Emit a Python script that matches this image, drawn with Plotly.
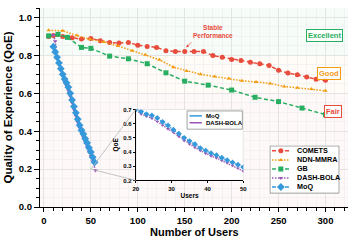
import plotly.graph_objects as go

# ---------------- data ----------------
users_comets = [5, 10, 20, 30, 40, 50, 60, 70, 80, 90, 100, 110, 120, 130, 140, 150,
                160, 170, 180, 190, 200, 210, 220, 230, 240, 250, 260, 270, 280, 290, 300]
qoe_comets = [0.900, 0.905, 0.900, 0.893, 0.886, 0.889, 0.877, 0.868, 0.865, 0.868, 0.854,
              0.847, 0.842, 0.825, 0.820, 0.820, 0.820, 0.820, 0.799, 0.790, 0.778, 0.773,
              0.764, 0.756, 0.747, 0.721, 0.707, 0.698, 0.686, 0.674, 0.669]

users_ndn = [5, 20, 35, 49, 64, 79, 94, 108, 123, 138, 152, 167, 182, 197, 211, 226,
             241, 256, 270, 285, 300]
qoe_ndn = [0.932, 0.930, 0.905, 0.885, 0.870, 0.850, 0.825, 0.803, 0.777, 0.738, 0.718,
           0.700, 0.688, 0.678, 0.666, 0.660, 0.652, 0.636, 0.629, 0.622, 0.613]

users_gb = [5, 15, 25, 40, 50, 70, 90, 110, 130, 150, 175, 200, 225, 250, 275, 300]
qoe_gb = [0.903, 0.911, 0.895, 0.842, 0.837, 0.796, 0.782, 0.756, 0.708, 0.664, 0.643,
          0.617, 0.579, 0.556, 0.522, 0.487]

users_bola = [10, 12, 14, 16, 18, 20, 22, 24, 26, 28, 30, 32, 34, 36, 38, 40, 42, 44,
              46, 48, 50, 52, 55]
qoe_bola = [0.908, 0.875, 0.792, 0.750, 0.720, 0.690, 0.662, 0.640, 0.615, 0.585, 0.550,
            0.515, 0.480, 0.447, 0.418, 0.392, 0.368, 0.342, 0.318, 0.292, 0.268, 0.242, 0.192]

users_moq = [10, 12, 14, 16, 18, 20, 22, 24, 26, 28, 30, 32, 34, 36, 38, 40, 42, 44,
             46, 48, 50, 52, 54]
qoe_moq = [0.846, 0.818, 0.790, 0.760, 0.730, 0.700, 0.675, 0.655, 0.632, 0.600, 0.565,
           0.530, 0.497, 0.463, 0.432, 0.405, 0.385, 0.360, 0.338, 0.312, 0.290, 0.262, 0.236]

inset_users = [20, 21.5, 23, 24.5, 26, 27.5, 29, 30.5, 32, 33.5, 35, 36.5, 38, 39.5,
               41, 42.5, 44, 45.5, 47, 48.5, 50]
inset_moq = [0.700, 0.685, 0.667, 0.658, 0.640, 0.612, 0.587, 0.557, 0.530, 0.500, 0.477,
             0.455, 0.428, 0.410, 0.392, 0.378, 0.360, 0.342, 0.327, 0.310, 0.293]
inset_bola = [0.695, 0.668, 0.652, 0.638, 0.615, 0.588, 0.563, 0.540, 0.510, 0.480, 0.455,
              0.432, 0.410, 0.390, 0.372, 0.358, 0.340, 0.322, 0.305, 0.285, 0.265]

series_names = ["COMETS", "NDN-MMRA", "GB", "DASH-BOLA", "MoQ"]
x_ticks = [0, 50, 100, 150, 200, 250, 300]
y_ticks = [0.0, 0.2, 0.4, 0.6, 0.8, 1.0]
inset_x_ticks = [20, 30, 40, 50]
inset_y_ticks = [0.2, 0.3, 0.4, 0.5, 0.6, 0.7]
zones = ["Excellent", "Good", "Fair"]

# ---------------- styling ----------------
W, H = 357, 242
ML, MR, MT, MB = 40, 5, 5, 35
PW, PH = W - ML - MR, H - MT - MB
FONT = "Liberation Sans, Arial, sans-serif"

RED, ORANGE, GREEN, PURPLE, BLUE = "#e74c3c", "#f39c12", "#27ae60", "#9b59b6", "#3498db"
DASH = "4px,2.5px"
DOT = "1.5px,1.5px"

styles = {
    "COMETS": dict(color=RED, dash=DASH, symbol="circle", size=5),
    "NDN-MMRA": dict(color=ORANGE, dash=DOT, symbol="triangle-up", size=4),
    "GB": dict(color=GREEN, dash=DASH, symbol="square", size=5),
    "DASH-BOLA": dict(color=PURPLE, dash=DOT, symbol="triangle-down", size=4),
    "MoQ": dict(color=BLUE, dash=DASH, symbol="diamond", size=6),
}
data = {
    "COMETS": (users_comets, qoe_comets),
    "NDN-MMRA": (users_ndn, qoe_ndn),
    "GB": (users_gb, qoe_gb),
    "DASH-BOLA": (users_bola, qoe_bola),
    "MoQ": (users_moq, qoe_moq),
}

XR = [-4.2, 324]
YR = [0, 1.05]
IXR = [20, 50]
IYR = [0.2, 0.7]


def px2paper(xp, yp):
    return (xp - ML) / PW, (H - MB - yp) / PH


fig = go.Figure()

# main series
for name in series_names:
    s = styles[name]
    xs, ys = data[name]
    fig.add_trace(go.Scatter(
        x=xs, y=ys, mode="lines+markers", name=name, showlegend=False,
        line=dict(color=s["color"], width=1.5, dash=s["dash"]),
        marker=dict(color=s["color"], symbol=s["symbol"], size=s["size"]),
        xaxis="x", yaxis="y"))

# inset background box
fig.add_trace(go.Scatter(
    x=[IXR[0], IXR[1], IXR[1], IXR[0], IXR[0]], y=[IYR[0], IYR[0], IYR[1], IYR[1], IYR[0]],
    mode="lines", fill="toself", fillcolor="white", line=dict(color="#cccccc", width=1),
    hoverinfo="skip", showlegend=False, xaxis="x2", yaxis="y2"))

fig.add_trace(go.Scatter(
    x=inset_users, y=inset_bola, mode="lines+markers", showlegend=False,
    line=dict(color=PURPLE, width=1.3, dash=DOT),
    marker=dict(color=PURPLE, symbol="triangle-down", size=3.5), xaxis="x2", yaxis="y2"))
fig.add_trace(go.Scatter(
    x=inset_users, y=inset_moq, mode="lines+markers", showlegend=False,
    line=dict(color=BLUE, width=1.3, dash=DOT),
    marker=dict(color=BLUE, symbol="diamond", size=4.5), xaxis="x2", yaxis="y2"))

# manual legend (overlay axis in pixel units)
LX0, LX1, LY0, LY1 = 273, 343, 145, 193
lw, lh = LX1 - LX0, LY1 - LY0
fig.add_trace(go.Scatter(
    x=[0, lw, lw, 0, 0], y=[0, 0, lh, lh, 0], mode="lines", fill="toself",
    fillcolor="white", line=dict(color="#8c8c8c", width=1), hoverinfo="skip",
    showlegend=False, xaxis="x3", yaxis="y3"))
rows = [5, 14.2, 23.3, 32.5, 41.7]
for name, r in zip(series_names, rows):
    s = styles[name]
    fig.add_trace(go.Scatter(
        x=[2, 20], y=[r, r], mode="lines", showlegend=False, hoverinfo="skip",
        line=dict(color=s["color"], width=1.5, dash=s["dash"]), xaxis="x3", yaxis="y3"))
    fig.add_trace(go.Scatter(
        x=[11], y=[r], mode="markers", showlegend=False, hoverinfo="skip",
        marker=dict(color=s["color"], symbol=s["symbol"], size=s["size"]),
        xaxis="x3", yaxis="y3"))
    fig.add_annotation(x=25, y=r, xref="x3", yref="y3", text=name, showarrow=False,
                       xanchor="left", yanchor="middle",
                       font=dict(family=FONT, size=7.2, color="black", weight="bold"))

shapes = []
# quality zones background
for y0, y1, col in [(0.8, YR[1], "rgba(39,174,96,0.045)"),
                    (0.6, 0.8, "rgba(243,156,18,0.04)"),
                    (YR[0], 0.6, "rgba(231,76,60,0.035)")]:
    shapes.append(dict(type="rect", xref="x", yref="y", x0=XR[0], x1=XR[1], y0=y0, y1=y1,
                       fillcolor=col, line=dict(width=0), layer="below"))

# connector lines from main point to inset corners
ix0, iy0 = px2paper(137, 180)
ix1, iy1 = px2paper(246, 108)
zx = (50 - XR[0]) / (XR[1] - XR[0])
zy = (0.2 - YR[0]) / (YR[1] - YR[0])
for cy in (iy0, iy1):
    shapes.append(dict(type="line", xref="paper", yref="paper", x0=zx, y0=zy, x1=ix0, y1=cy,
                       line=dict(color="#b5b5b5", width=0.8), layer="above"))

# inset legend
bx0, by0 = px2paper(189, 128)
bx1, by1 = px2paper(245, 109.5)
shapes.append(dict(type="rect", xref="paper", yref="paper", x0=bx0, x1=bx1, y0=by0, y1=by1,
                   fillcolor="white", line=dict(color="#8c8c8c", width=0.8), layer="above"))
for (yy, col) in [(114.5, BLUE), (121.5, PURPLE)]:
    a0, b0 = px2paper(191.5, yy)
    a1, _ = px2paper(204, yy)
    shapes.append(dict(type="line", xref="paper", yref="paper", x0=a0, x1=a1, y0=b0, y1=b0,
                       line=dict(color=col, width=1.5), layer="above"))
for (yy, txt) in [(114.5, "MoQ"), (121.5, "DASH-BOLA")]:
    a0, b0 = px2paper(206.5, yy)
    fig.add_annotation(x=a0, y=b0, xref="paper", yref="paper", text=txt, showarrow=False,
                       xanchor="left", yanchor="middle",
                       font=dict(family=FONT, size=6, color="black", weight="bold"))

# annotations
fig.add_annotation(x=180, y=0.926, xref="x", yref="y", text="Stable<br>Performance",
                   showarrow=False, font=dict(family=FONT, size=6.5, color=RED, weight="bold"))
fig.add_annotation(x=151.6, y=0.842, ax=158.6, ay=0.877, xref="x", yref="y",
                   axref="x", ayref="y", text="", showarrow=True, arrowhead=2,
                   arrowsize=0.7, arrowwidth=0.8, arrowcolor=RED)
for txt, xx, yy, col in [(zones[0], 298.6, 0.903, GREEN), (zones[1], 304, 0.704, ORANGE),
                         (zones[2], 307.7, 0.502, RED)]:
    fig.add_annotation(x=xx, y=yy, xref="x", yref="y", text=txt, showarrow=False,
                       font=dict(family=FONT, size=7.5, color=col, weight="bold"),
                       bgcolor="rgba(255,255,255,0.85)", bordercolor=col, borderwidth=1,
                       borderpad=1)

# x-axis title placed explicitly
tx, ty = px2paper(196, 232.5)
fig.add_annotation(x=0.5, y=ty, xref="paper", yref="paper", text="Number of Users",
                   showarrow=False, xanchor="center", yanchor="middle",
                   font=dict(family=FONT, size=11, color="black", weight="bold"))

tickfont = dict(family=FONT, size=9.5, color="black", weight="bold")
ltx0, lty0 = px2paper(LX0 - 0.5, LY1 + 0.5)
ltx1, lty1 = px2paper(LX1 + 0.5, LY0 - 0.5)

fig.update_layout(
    width=W, height=H, margin=dict(l=ML, r=MR, t=MT, b=MB),
    paper_bgcolor="white", plot_bgcolor="white",
    font=dict(family=FONT, color="black"),
    showlegend=False, shapes=shapes,
    xaxis=dict(domain=[0, 1], range=XR, tickvals=x_ticks, ticks="outside", ticklen=4,
               tickwidth=1.2, tickcolor="black", showline=True, linecolor="black",
               linewidth=1.2, showgrid=True, gridcolor="#e4e4e4", gridwidth=0.8,
               zeroline=False, tickfont=tickfont,
               minor=dict(dtick=10, ticks="outside", ticklen=2.5, tickcolor="black",
                          showgrid=True, gridcolor="#f2f2f2")),
    yaxis=dict(domain=[0, 1], range=YR, tickvals=y_ticks, tickformat=".1f", ticks="outside",
               ticklen=5, tickwidth=1.2, tickcolor="black", showline=True, linecolor="black",
               linewidth=1.2, showgrid=True, gridcolor="#e4e4e4", gridwidth=0.8,
               zeroline=False, tickfont=tickfont,
               minor=dict(dtick=0.05, ticks="outside", ticklen=2.5, tickcolor="black",
                          showgrid=True, gridcolor="#f2f2f2"),
               title=dict(text="Quality of Experience (QoE)", standoff=3,
                          font=dict(family=FONT, size=11.5, weight="bold"))),
    xaxis2=dict(domain=[ix0, ix1], anchor="y2", range=IXR, tickvals=inset_x_ticks,
                ticks="outside", ticklen=2, tickcolor="black", showline=True,
                linecolor="black", linewidth=1, showgrid=False, zeroline=False,
                tickfont=dict(family=FONT, size=6, weight="bold"),
                title=dict(text="Users", standoff=2,
                           font=dict(family=FONT, size=6.5, weight="bold"))),
    yaxis2=dict(domain=[iy0, iy1], anchor="x2", range=IYR, tickvals=inset_y_ticks,
                tickformat=".1f", ticks="outside", ticklen=2, tickcolor="black",
                showline=True, linecolor="black", linewidth=1, showgrid=False,
                zeroline=False, tickfont=dict(family=FONT, size=6, weight="bold"),
                title=dict(text="QoE", standoff=3,
                           font=dict(family=FONT, size=6.5, weight="bold"))),
    xaxis3=dict(domain=[ltx0, ltx1], anchor="y3", range=[-0.5, lw + 0.5], visible=False,
                fixedrange=True),
    yaxis3=dict(domain=[lty0, lty1], anchor="x3", range=[lh + 0.5, -0.5], visible=False,
                fixedrange=True),
)

fig.write_html("out.html", config={"displayModeBar": False},
               post_script="document.body.style.margin='0';"
                           "document.documentElement.style.margin='0';")
